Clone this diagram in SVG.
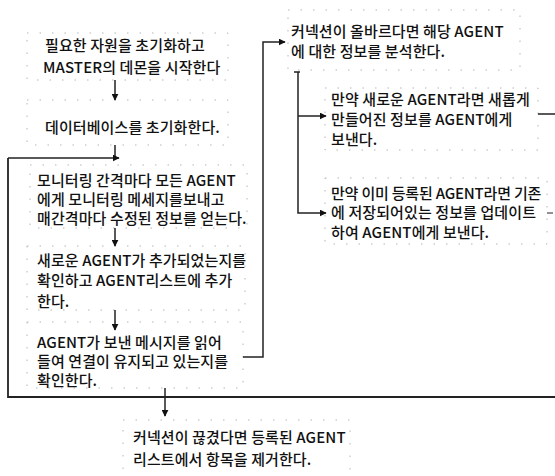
<svg xmlns="http://www.w3.org/2000/svg" width="555" height="476" viewBox="0 0 555 476">
<defs>
<style>
text{font-family:"Noto Sans CJK KR","Noto Sans",sans-serif;font-size:15px;font-weight:500;fill:#111;letter-spacing:0.1px}
.box{fill:none;stroke:#b5b5b5;stroke-width:1;stroke-dasharray:1.5 11}
.ln{fill:none;stroke:#222;stroke-width:1.5}
</style>
<marker id="ah" viewBox="0 0 10 10" refX="9" refY="5" markerWidth="7" markerHeight="7" orient="auto" markerUnits="userSpaceOnUse">
<path d="M0,0L10,5L0,10z" fill="#111"/>
</marker>
</defs>
<rect width="555" height="476" fill="#fff"/>
<g id="n1">
<rect class="box" x="27" y="33" width="201" height="47"/>
<text x="45" y="51">필요한 자원을 초기화하고</text>
<text x="43" y="73">MASTER의 데몬을 시작한다</text>
</g>
<g id="n2">
<rect class="box" x="27" y="100" width="201" height="45"/>
<text x="45" y="133">데이터베이스를 초기화한다.</text>
</g>
<g id="n3">
<rect class="box" x="30" y="165" width="217" height="63"/>
<text x="37" y="186">모니터링 간격마다 모든 AGENT</text>
<text x="37" y="205">에게 모니터링 메세지를보내고</text>
<text x="37" y="224">매간격마다 수정된 정보를 얻는다.</text>
</g>
<g id="n4">
<rect class="box" x="27" y="246" width="218" height="64"/>
<text x="37" y="266">새로운 AGENT가 추가되었는지를</text>
<text x="37" y="286">확인하고 AGENT리스트에 추가</text>
<text x="37" y="307">한다.</text>
</g>
<g id="n5">
<rect class="box" x="27" y="322" width="216" height="66"/>
<text x="37" y="348">AGENT가 보낸 메시지를 읽어</text>
<text x="37" y="367">들여 연결이 유지되고 있는지를</text>
<text x="37" y="386">확인한다.</text>
</g>
<g id="n6">
<rect class="box" x="288" y="10" width="232" height="60"/>
<text x="291" y="37">커넥션이 올바르다면 해당 AGENT</text>
<text x="291" y="57">에 대한 정보를 분석한다.</text>
</g>
<g id="n7">
<rect class="box" x="325" y="88" width="213" height="62"/>
<text x="331" y="105">만약 새로운 AGENT라면 새롭게</text>
<text x="331" y="125">만들어진 정보를 AGENT에게</text>
<text x="331" y="145">보낸다.</text>
</g>
<g id="n8">
<rect class="box" x="325" y="178" width="222" height="66"/>
<text x="331" y="199" style="letter-spacing:-0.2px">만약 이미 등록된 AGENT라면 기존</text>
<text x="331" y="218">에 저장되어있는 정보를 업데이트</text>
<text x="331" y="238">하여 AGENT에게 보낸다.</text>
</g>
<g id="n9">
<rect class="box" x="123" y="420" width="227" height="60"/>
<text x="133" y="443">커넥션이 끊겼다면 등록된 AGENT</text>
<text x="133" y="465">리스트에서 항목을 제거한다.</text>
</g>
<g id="connectors">
<path class="ln" d="M115,80V100" marker-end="url(#ah)"/>
<path class="ln" d="M115,145V158"/>
<path class="ln" d="M8,158H119" marker-end="url(#ah)"/>
<path class="ln" d="M8,158V397H555" style="stroke-width:1.8"/>
<path class="ln" d="M115,228V246" marker-end="url(#ah)"/>
<path class="ln" d="M115,310V330" marker-end="url(#ah)"/>
<path class="ln" d="M243,357H263V42H285" marker-end="url(#ah)"/>
<path class="ln" d="M294,72H300M298,72V213H326" marker-end="url(#ah)"/>
<path class="ln" d="M298,116H326" marker-end="url(#ah)"/>
<path class="ln" d="M538,114H555"/>
<path class="ln" d="M547,213H553" style="stroke-width:1"/>
<path class="ln" d="M165,388V416" marker-end="url(#ah)"/>
</g>
</svg>
